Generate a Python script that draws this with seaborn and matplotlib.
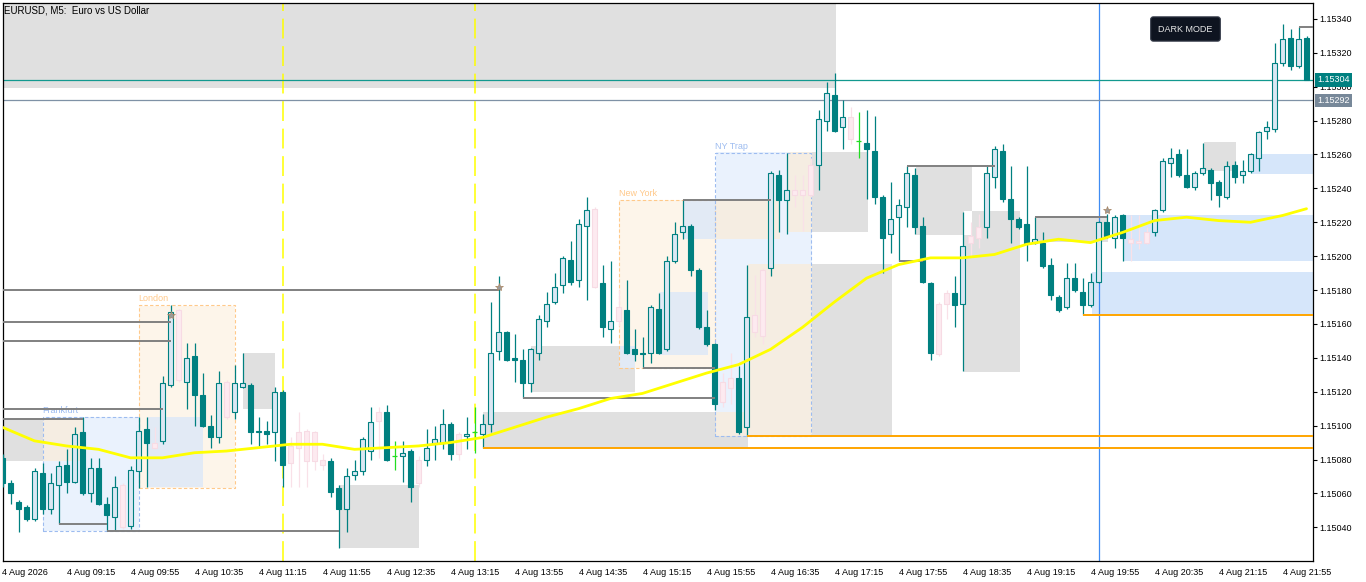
import matplotlib
matplotlib.use('Agg')
import matplotlib.pyplot as plt
from matplotlib.patches import Rectangle
from matplotlib.transforms import blended_transform_factory
import numpy as np
import seaborn as sns

# EURUSD M5 bars, first bar 4 Aug 08:35
opens = [1.15081, 1.15066, 1.15055, 1.15052, 1.15045, 1.15072, 1.15051, 1.15065, 1.15077, 1.15067,
         1.15096, 1.15060, 1.15075, 1.15054, 1.15046, 1.15065, 1.15041, 1.15073, 1.15098, 1.15090,
         1.15091, 1.15124, 1.15168, 1.15126, 1.15141, 1.15118, 1.15100, 1.15093, 1.15126, 1.15108,
         1.15123, 1.15124, 1.15096, 1.15097, 1.15096, 1.15120, 1.15088, 1.15096, 1.15097, 1.15096,
         1.15080, 1.15079, 1.15063, 1.15051, 1.15071, 1.15073, 1.15085, 1.15108, 1.15108, 1.15082,
         1.15082, 1.15085, 1.15080, 1.15080, 1.15090, 1.15090, 1.15101, 1.15095, 1.15094, 1.15096,
         1.15095, 1.15101, 1.15144, 1.15155, 1.15140, 1.15139, 1.15125, 1.15143, 1.15162, 1.15173,
         1.15183, 1.15198, 1.15186, 1.15218, 1.15228, 1.15184, 1.15157, 1.15170, 1.15168, 1.15145,
         1.15143, 1.15143, 1.15169, 1.15145, 1.15197, 1.15214, 1.15218, 1.15192, 1.15158, 1.15148,
         1.15126, 1.15128, 1.15128, 1.15099, 1.15165, 1.15153, 1.15193, 1.15248, 1.15233, 1.15239,
         1.15236, 1.15236, 1.15254, 1.15280, 1.15295, 1.15276, 1.15282, 1.15268, 1.15267, 1.15262,
         1.15235, 1.15213, 1.15223, 1.15229, 1.15248, 1.15218, 1.15184, 1.15172, 1.15178, 1.15178,
         1.15172, 1.15208, 1.15211, 1.15217, 1.15247, 1.15262, 1.15234, 1.15222, 1.15219, 1.15208,
         1.15208, 1.15195, 1.15176, 1.15170, 1.15187, 1.15179, 1.15171, 1.15185, 1.15220, 1.15211,
         1.15224, 1.15210, 1.15209, 1.15208, 1.15214, 1.15227, 1.15255, 1.15260, 1.15248, 1.15241,
         1.15249, 1.15251, 1.15244, 1.15235, 1.15254, 1.15248, 1.15250, 1.15258, 1.15274, 1.15275,
         1.15314, 1.15329, 1.15312, 1.15329]
highs = [1.15083, 1.15068, 1.15056, 1.15053, 1.15075, 1.15078, 1.15072, 1.15079, 1.15086, 1.15099,
         1.15105, 1.15081, 1.15081, 1.15058, 1.15070, 1.15066, 1.15076, 1.15105, 1.15105, 1.15099,
         1.15129, 1.15171, 1.15169, 1.15149, 1.15149, 1.15131, 1.15106, 1.15132, 1.15127, 1.15136,
         1.15143, 1.15125, 1.15105, 1.15103, 1.15123, 1.15121, 1.15093, 1.15108, 1.15098, 1.15097,
         1.15083, 1.15081, 1.15065, 1.15075, 1.15080, 1.15093, 1.15111, 1.15111, 1.15112, 1.15091,
         1.15091, 1.15086, 1.15082, 1.15098, 1.15100, 1.15110, 1.15102, 1.15096, 1.15105, 1.15111,
         1.15107, 1.15173, 1.15188, 1.15156, 1.15154, 1.15145, 1.15146, 1.15165, 1.15179, 1.15190,
         1.15200, 1.15209, 1.15222, 1.15235, 1.15229, 1.15195, 1.15197, 1.15180, 1.15186, 1.15157,
         1.15152, 1.15171, 1.15178, 1.15200, 1.15220, 1.15233, 1.15219, 1.15193, 1.15168, 1.15149,
         1.15131, 1.15143, 1.15135, 1.15195, 1.15189, 1.15193, 1.15250, 1.15251, 1.15261, 1.15248,
         1.15248, 1.15258, 1.15286, 1.15303, 1.15308, 1.15292, 1.15288, 1.15285, 1.15286, 1.15283,
         1.15236, 1.15244, 1.15234, 1.15253, 1.15252, 1.15223, 1.15185, 1.15173, 1.15180, 1.15188,
         1.15226, 1.15220, 1.15225, 1.15254, 1.15265, 1.15266, 1.15253, 1.15223, 1.15253, 1.15223,
         1.15214, 1.15199, 1.15177, 1.15196, 1.15196, 1.15187, 1.15190, 1.15221, 1.15225, 1.15224,
         1.15225, 1.15224, 1.15224, 1.15217, 1.15228, 1.15258, 1.15264, 1.15263, 1.15263, 1.15250,
         1.15267, 1.15252, 1.15245, 1.15256, 1.15256, 1.15257, 1.15261, 1.15274, 1.15280, 1.15326,
         1.15337, 1.15334, 1.15335, 1.15330]
lows = [1.15064, 1.15054, 1.15037, 1.15044, 1.15044, 1.15048, 1.15048, 1.15042, 1.15060, 1.15066,
        1.15059, 1.15055, 1.15053, 1.15038, 1.15038, 1.15039, 1.15039, 1.15063, 1.15064, 1.15086,
        1.15089, 1.15123, 1.15126, 1.15110, 1.15100, 1.15099, 1.15087, 1.15090, 1.15104, 1.15104,
        1.15122, 1.15089, 1.15088, 1.15089, 1.15079, 1.15064, 1.15064, 1.15064, 1.15064, 1.15074,
        1.15074, 1.15058, 1.15028, 1.15037, 1.15068, 1.15071, 1.15080, 1.15081, 1.15079, 1.15074,
        1.15067, 1.15055, 1.15064, 1.15076, 1.15080, 1.15086, 1.15080, 1.15080, 1.15086, 1.15084,
        1.15087, 1.15096, 1.15139, 1.15138, 1.15126, 1.15116, 1.15120, 1.15139, 1.15158, 1.15172,
        1.15178, 1.15183, 1.15182, 1.15174, 1.15181, 1.15152, 1.15149, 1.15159, 1.15142, 1.15138,
        1.15134, 1.15137, 1.15142, 1.15144, 1.15196, 1.15210, 1.15188, 1.15157, 1.15147, 1.15109,
        1.15111, 1.15113, 1.15095, 1.15094, 1.15152, 1.15148, 1.15188, 1.15214, 1.15213, 1.15229,
        1.15215, 1.15235, 1.15239, 1.15274, 1.15273, 1.15263, 1.15266, 1.15258, 1.15234, 1.15231,
        1.15190, 1.15202, 1.15197, 1.15217, 1.15213, 1.15184, 1.15139, 1.15141, 1.15163, 1.15158,
        1.15132, 1.15200, 1.15205, 1.15211, 1.15240, 1.15232, 1.15208, 1.15216, 1.15197, 1.15207,
        1.15193, 1.15174, 1.15167, 1.15169, 1.15179, 1.15165, 1.15170, 1.15184, 1.15211, 1.15205,
        1.15197, 1.15197, 1.15204, 1.15207, 1.15212, 1.15226, 1.15247, 1.15247, 1.15240, 1.15239,
        1.15248, 1.15233, 1.15229, 1.15234, 1.15243, 1.15243, 1.15249, 1.15250, 1.15269, 1.15273,
        1.15312, 1.15310, 1.15311, 1.15304]
closes = [1.15066, 1.15060, 1.15051, 1.15045, 1.15073, 1.15051, 1.15066, 1.15076, 1.15067, 1.15095,
          1.15060, 1.15075, 1.15054, 1.15047, 1.15064, 1.15040, 1.15074, 1.15097, 1.15090, 1.15087,
          1.15125, 1.15167, 1.15127, 1.15140, 1.15118, 1.15100, 1.15093, 1.15125, 1.15105, 1.15125,
          1.15125, 1.15096, 1.15097, 1.15095, 1.15120, 1.15077, 1.15078, 1.15087, 1.15079, 1.15079,
          1.15077, 1.15061, 1.15051, 1.15070, 1.15073, 1.15092, 1.15102, 1.15103, 1.15080, 1.15082,
          1.15084, 1.15064, 1.15066, 1.15087, 1.15092, 1.15101, 1.15083, 1.15083, 1.15095, 1.15096,
          1.15101, 1.15143, 1.15155, 1.15139, 1.15139, 1.15125, 1.15145, 1.15163, 1.15172, 1.15182,
          1.15199, 1.15185, 1.15219, 1.15227, 1.15182, 1.15158, 1.15162, 1.15162, 1.15143, 1.15142,
          1.15142, 1.15170, 1.15143, 1.15197, 1.15213, 1.15218, 1.15192, 1.15158, 1.15148, 1.15113,
          1.15114, 1.15122, 1.15096, 1.15164, 1.15155, 1.15192, 1.15249, 1.15233, 1.15239, 1.15236,
          1.15239, 1.15254, 1.15281, 1.15296, 1.15274, 1.15282, 1.15269, 1.15268, 1.15263, 1.15235,
          1.15211, 1.15222, 1.15230, 1.15249, 1.15217, 1.15185, 1.15143, 1.15142, 1.15172, 1.15171,
          1.15206, 1.15212, 1.15217, 1.15249, 1.15263, 1.15234, 1.15222, 1.15217, 1.15208, 1.15210,
          1.15194, 1.15177, 1.15168, 1.15187, 1.15180, 1.15171, 1.15185, 1.15220, 1.15212, 1.15223,
          1.15211, 1.15208, 1.15208, 1.15214, 1.15227, 1.15256, 1.15258, 1.15248, 1.15241, 1.15249,
          1.15252, 1.15243, 1.15236, 1.15253, 1.15247, 1.15250, 1.15260, 1.15273, 1.15276, 1.15314,
          1.15328, 1.15312, 1.15328, 1.15304]
# u = bull, d = bear, p = faded (pink) bar, g = green doji
kinds = list("dddduduudu" "duddupuudp" "uupudddupu" "udududpppp" "pdduuuupdg"
             "udpuuudpug" "uuuddduuuu" "uduupdupdd" "duduuudddd" "ppduppudup"
             "ppuudupgdd" "duuudddppd" "uppuuddddu" "dddudduudu" "dpppuuuddu"
             "udduduuuuu" "udud")

# moving average, read every 4th bar
ma_bars = list(range(0, 161, 4)) + [163]
ma_vals = [1.15099, 1.15091, 1.15088, 1.15086, 1.15081, 1.15081, 1.15084, 1.15085, 1.15087, 1.15089,
           1.15089, 1.15086, 1.15087, 1.15088, 1.15090, 1.15093, 1.15099, 1.15105, 1.15110, 1.15116,
           1.15119, 1.15125, 1.15131, 1.15136, 1.15145, 1.15158, 1.15173, 1.15187, 1.15195, 1.15199,
           1.15199, 1.15201, 1.15207, 1.15210, 1.15208, 1.15214, 1.15221, 1.15223, 1.15221, 1.15220,
           1.15224, 1.15228]

tick_labels = ['4 Aug 2026', '4 Aug 09:15', '4 Aug 09:55', '4 Aug 10:35', '4 Aug 11:15', '4 Aug 11:55',
               '4 Aug 12:35', '4 Aug 13:15', '4 Aug 13:55', '4 Aug 14:35', '4 Aug 15:15', '4 Aug 15:55',
               '4 Aug 16:35', '4 Aug 17:15', '4 Aug 17:55', '4 Aug 18:35', '4 Aug 19:15', '4 Aug 19:55',
               '4 Aug 20:35', '4 Aug 21:15', '4 Aug 21:55']
price_ticks = [1.15040, 1.15060, 1.15080, 1.15100, 1.15120, 1.15140, 1.15160, 1.15180,
               1.15200, 1.15220, 1.15240, 1.15260, 1.15280, 1.15300, 1.15320, 1.15340]

# grey zones: start bar, end bar, top, bottom
grey_zones = [(-2, 104, 1.15360, 1.15299), (-2, 10, 1.15104, 1.15079), (30, 34, 1.15143, 1.15110),
              (18, 25, 1.15105, 1.15064), (42, 52, 1.15065, 1.15028), (60, 93, 1.15108, 1.15087),
              (66, 79, 1.15147, 1.15120), (82, 88, 1.15179, 1.15142), (85, 97, 1.15233, 1.15210),
              (98, 108, 1.15261, 1.15214), (93, 111, 1.15195, 1.15094), (114, 121, 1.15252, 1.15212),
              (120, 127, 1.15226, 1.15132), (129, 138, 1.15223, 1.15208), (150, 154, 1.15267, 1.15250)]
blue_zones = [(140, 170, 1.15224, 1.15197), (136, 170, 1.15190, 1.15166), (156, 170, 1.15260, 1.15248)]
sessions = [('Frankfurt', 5, 17, 1.15105, 1.15038, 'blue'), ('London', 17, 29, 1.15171, 1.15063, 'orange'),
            ('New York', 77, 89, 1.15233, 1.15134, 'orange'), ('NY Trap', 89, 101, 1.15261, 1.15094, 'blue')]

# liquidity levels
grey_levels = [1.15180, 1.15161, 1.15150, 1.15110, 1.15104, 1.15042, 1.15038, 1.15116, 1.15134,
               1.15233, 1.15253, 1.15197, 1.15223, 1.15335]
grey_from = [-2, -2, -2, -2, -2, 7, 13, 65, 80, 85, 113, 112, 129, 162]
grey_to = [62, 21, 21, 20, 10, 13, 42, 89, 89, 96, 124, 115, 138, 170]
orange_levels = [1.15087, 1.15094, 1.15165]
orange_from = [60, 93, 135]
star_bars = [21, 62, 138]
star_prices = [1.15165, 1.15182, 1.15227]
session_lines = [35, 59]
cursor_bar = 137
bid, ask_line = 1.15304, 1.15292

TEAL = '#008080'
x0, x1 = 0.0, 163.81
y0, y1 = 1.150201, 1.153497

sns.set_theme(style='white')
plt.rcParams['font.family'] = ['Liberation Sans', 'DejaVu Sans']

fig = plt.figure(figsize=(13.66, 5.82), dpi=100)
ax = fig.add_axes([2.5 / 1366, 21 / 582, 1310.5 / 1366, 558.5 / 582])

# filled objects are mixed like the terminal does (xor with inverted colour)
nx, ny = int(round((x1 - x0) * 8)), 558
xc = x0 + (np.arange(nx) + 0.5) / 8
yc = y0 + (np.arange(ny) + 0.5) * (y1 - y0) / ny
canvas = np.full((ny, nx), 0xFFFFFF, dtype=np.int64)


def fill(start, end, top, bottom, col):
    cols = (xc >= start) & (xc < end)
    rows = (yc >= bottom) & (yc < top)
    canvas[np.ix_(rows, cols)] ^= (~int(col.lstrip('#'), 16)) & 0xFFFFFF


for z in grey_zones:
    fill(*z, '#e0e0e0')
for z in blue_zones:
    fill(*z, '#d6e6fa')
sess_fill = {'blue': '#eaf2fd', 'orange': '#fdf5ea'}
sess_edge = {'blue': '#9dbcf0', 'orange': '#ffc98a'}
for name, s, e, hi, lo, col in sessions:
    fill(s, e, hi, lo, sess_fill[col])
rgb = np.stack([(canvas >> 16) & 255, (canvas >> 8) & 255, canvas & 255], axis=-1).astype(np.uint8)
ax.imshow(rgb, extent=(x0, x1, y0, y1), origin='lower', aspect='auto', interpolation='nearest', zorder=0)

for name, s, e, hi, lo, col in sessions:
    ax.add_patch(Rectangle((s, lo), e - s, hi - lo, fill=False, ec=sess_edge[col], lw=0.8,
                           ls=(0, (3, 2)), zorder=1))
    ax.annotate(name, (s, hi), xytext=(0, 1.5), textcoords='offset points', color=sess_edge[col],
                fontsize=6.5, ha='left', va='bottom')

# vertical markers
for b in session_lines:
    ax.axvline(b, color='#ffff00', lw=1.1, ls=(0, (13, 5)), zorder=2)
ax.axvline(cursor_bar, color='#3f8cf3', lw=0.9, zorder=2)

# price lines
ax.axhline(bid, color='#12998f', lw=0.9, zorder=2)
ax.axhline(ask_line, color='#7f92a6', lw=0.9, zorder=2)

# candles
xb = np.arange(len(opens))
o, h, l, c = map(np.array, (opens, highs, lows, closes))
k = np.array(kinds)
styles = {'u': ('#dbe7f3', TEAL, TEAL), 'd': (TEAL, TEAL, TEAL), 'p': ('#fdeaf0', '#f7dbe4', '#f9e1e8')}
for kind, (fc, ec, wc) in styles.items():
    m = k == kind
    ax.vlines(xb[m], l[m], h[m], color=wc, lw=0.9, zorder=3)
    bottom = np.minimum(o[m], c[m])
    height = np.maximum(np.abs(c[m] - o[m]), 0.000006)
    ax.bar(xb[m], height, bottom=bottom, width=0.55, color=fc, edgecolor=ec, linewidth=0.8, zorder=4)
m = k == 'g'
ax.vlines(xb[m], l[m], h[m], color='#22dd22', lw=0.9, zorder=3)
ax.hlines(o[m], xb[m] - 0.3, xb[m] + 0.3, color='#22dd22', lw=0.9, zorder=3)

# liquidity lines
ax.hlines(grey_levels, grey_from, grey_to, color='#808080', lw=1.4, zorder=5)
ax.hlines(orange_levels, orange_from, [170] * len(orange_levels), color='#ffa500', lw=1.4, zorder=5)
ax.plot(star_bars, star_prices, ls='none', marker='*', ms=6, color='#9a9a9a', mec='#a88462', mew=0.5,
        zorder=6)

# moving average
sns.lineplot(x=ma_bars, y=ma_vals, ax=ax, color='#ffff00', lw=2.0, zorder=6)

ax.set_xlim(x0, x1)
ax.set_ylim(y0, y1)
ax.set_xticks(list(range(0, 161, 8)))
ax.set_xticklabels(tick_labels, ha='left')
ax.set_yticks(price_ticks)
ax.set_yticklabels([f'{p:.5f}' for p in price_ticks])
ax.yaxis.tick_right()
ax.tick_params(axis='both', direction='out', length=3, width=0.8, labelsize=6.5, colors='black', pad=1.5)
ax.tick_params(axis='x', pad=2)
for sp in ax.spines.values():
    sp.set_visible(True)
    sp.set_color('black')
    sp.set_linewidth(0.9)
ax.set_xlabel('')
ax.set_ylabel('')

ax.text(0.0012, 0.994, 'EURUSD, M5:  Euro vs US Dollar', transform=ax.transAxes, ha='left', va='top',
        fontsize=7, color='black')

tr = blended_transform_factory(ax.transAxes, ax.transData)
ax.text(1.0035, bid, f'{bid:.5f}', transform=tr, ha='left', va='center', fontsize=6.5, color='white',
        bbox=dict(boxstyle='square,pad=0.25', fc=TEAL, ec='none'), zorder=10)
ax.text(1.0035, ask_line, f'{ask_line:.5f}', transform=tr, ha='left', va='center', fontsize=6.5,
        color='white', bbox=dict(boxstyle='square,pad=0.25', fc='#778899', ec='none'), zorder=10)

fig.text(1185.5 / 1366, 1 - 29 / 582, 'DARK MODE', ha='center', va='center', fontsize=6.5, color='#e8e8e8',
         bbox=dict(boxstyle='round,pad=0.85,rounding_size=0.3', fc='#0e1420', ec='#3c4250', lw=0.8))

fig.savefig('out.png', dpi=100)
